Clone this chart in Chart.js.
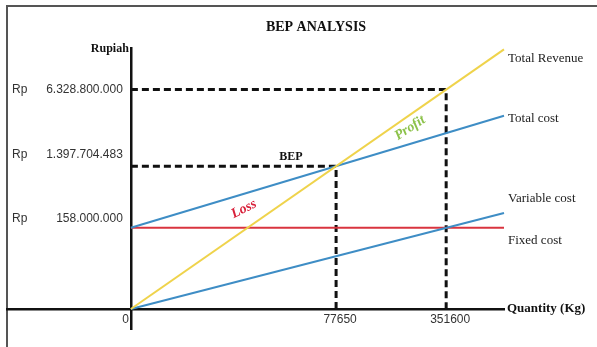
<!DOCTYPE html>
<html>
<head>
<meta charset="utf-8">
<script src="https://cdn.jsdelivr.net/npm/chart.js@4"></script>
<style>
  html, body { margin: 0; padding: 0; background: #fff; }
  #wrap { width: 597px; height: 347px; }
</style>
</head>
<body>
<div id="wrap"><canvas id="bep"></canvas></div>
<script>
// schematic units: quantity axis 0..100, rupiah axis 0..~93
const xRange = [0, 100];
const totalRevenue = [0, 92.7];
const totalCost = [29, 69];
const variableCost = [0, 34.3];
const fixedCost = [29, 29];
const bepPoint = [55, 51];
const actualPoint = [84.5, 78.4];

const seriesNames = ['Total Revenue', 'Total cost', 'Variable cost', 'Fixed cost'];
const xTickValues = [0, 55, 84.5];
const xTickLabels = ['0', '77650', '351600'];
const yTickValues = [78.4, 51, 29];
const yTickLabels = ['6.328.800.000', '1.397.704.483', '158.000.000'];

function pts(ys) {
    return xRange.map((x, i) => ({ x: x, y: ys[i] }));
}

function dropLine(p) {
    return [{ x: 0, y: p[1] }, { x: p[0], y: p[1] }, { x: p[0], y: 0 }];
}

// texto, marco y etiquetas
const annotations = {
    id: 'annotations',
    beforeDraw(chart) {
        const c = chart.ctx;
        c.save();
        c.fillStyle = '#fff';
        c.fillRect(0, 0, chart.width, chart.height);
        c.strokeStyle = '#555';
        c.lineWidth = 2;
        c.beginPath();
        c.moveTo(7, 347);
        c.lineTo(7, 6);
        c.lineTo(597, 6);
        c.stroke();
        c.restore();
    },
    afterDraw(chart) {
        const c = chart.ctx;
        const xs = chart.scales.x, ys = chart.scales.y;
        c.save();
        c.textBaseline = 'middle';

        c.fillStyle = '#111';
        c.font = 'bold 14px "Liberation Serif"';
        c.textAlign = 'center';
        c.fillText('BEP ANALYSIS', 316, 27);

        c.font = 'bold 12px "Liberation Serif"';
        c.textAlign = 'right';
        c.fillText('Rupiah', xs.getPixelForValue(0) - 2, 49);
        c.textAlign = 'left';
        c.font = 'bold 13px "Liberation Serif"';
        c.fillText('Quantity (Kg)', xs.right + 3, ys.getPixelForValue(0));

        // y tick labels
        c.font = '12px "Liberation Sans"';
        c.fillStyle = '#333';
        const yOff = [0, -11, -9];
        yTickValues.forEach((v, i) => {
            const py = ys.getPixelForValue(v) + yOff[i];
            c.textAlign = 'left';
            c.fillText('Rp', 12, py);
            c.textAlign = 'right';
            c.fillText(yTickLabels[i], xs.getPixelForValue(0) - 8, py);
        });

        // x tick labels
        xTickValues.forEach((v, i) => {
            const px = xs.getPixelForValue(v);
            if (i === 0) {
                c.textAlign = 'right';
                c.fillText(xTickLabels[i], px - 2, ys.getPixelForValue(0) + 11);
            } else {
                c.textAlign = 'center';
                c.fillText(xTickLabels[i], px + 4, ys.getPixelForValue(0) + 11);
            }
        });

        // series names at line ends
        c.font = '13px "Liberation Serif"';
        c.fillStyle = '#222';
        c.textAlign = 'left';
        const ends = [totalRevenue[1], totalCost[1], variableCost[1], fixedCost[1]];
        const nameOff = [9, 3, -14, 13];
        seriesNames.forEach((name, i) => {
            c.fillText(name, xs.getPixelForValue(xRange[1]) + 4, ys.getPixelForValue(ends[i]) + nameOff[i]);
        });

        c.font = 'bold 12px "Liberation Serif"';
        c.fillStyle = '#111';
        c.textAlign = 'center';
        c.fillText('BEP', 291, 157);

        c.translate(244, 209);
        c.rotate(-27 * Math.PI / 180);
        c.font = 'italic bold 14px "Liberation Serif"';
        c.fillStyle = '#d8203a';
        c.fillText('Loss', 0, 0);
        c.restore();

        c.save();
        c.translate(410, 128);
        c.rotate(-33 * Math.PI / 180);
        c.font = 'italic bold 14px "Liberation Serif"';
        c.fillStyle = '#8cc24a';
        c.textAlign = 'center';
        c.textBaseline = 'middle';
        c.fillText('Profit', 0, 0);
        c.restore();
    }
};

const solid = (label, data, color) => ({
    label: label,
    data: data,
    borderColor: color,
    borderWidth: 2,
    pointRadius: 0,
    fill: false,
    clip: false
});

const dashed = (label, data) => ({
    label: label,
    data: data,
    borderColor: '#111',
    borderWidth: 3,
    borderDash: [7, 4],
    pointRadius: 0,
    fill: false,
    clip: false
});

new Chart(document.getElementById('bep'), {
    type: 'line',
    data: {
        datasets: [
            solid(seriesNames[0], pts(totalRevenue), '#efd34b'),
            solid(seriesNames[1], pts(totalCost), '#3e8dc5'),
            solid(seriesNames[2], pts(variableCost), '#3e8dc5'),
            solid(seriesNames[3], pts(fixedCost), '#d9343f'),
            dashed('BEP', dropLine(bepPoint)),
            dashed('Actual', dropLine(actualPoint))
        ]
    },
    options: {
        responsive: true,
        maintainAspectRatio: false,
        animation: false,
        layout: { padding: { left: 7, right: 93, top: 48, bottom: 18 } },
        plugins: {
            legend: { display: false },
            tooltip: { enabled: false }
        },
        scales: {
            x: {
                type: 'linear',
                min: -33.2,
                max: 100,
                position: { y: 0 },
                grid: { display: true, color: 'rgba(0,0,0,0)', drawTicks: false },
                border: { display: true, color: '#111', width: 2.5 },
                ticks: { display: false }
            },
            y: {
                type: 'linear',
                min: -7.14,
                max: 93.2,
                position: { x: 0 },
                grid: { display: true, color: 'rgba(0,0,0,0)', drawTicks: false },
                border: { display: true, color: '#111', width: 2.5 },
                ticks: { display: false }
            }
        }
    },
    plugins: [annotations]
});
</script>
</body>
</html>
